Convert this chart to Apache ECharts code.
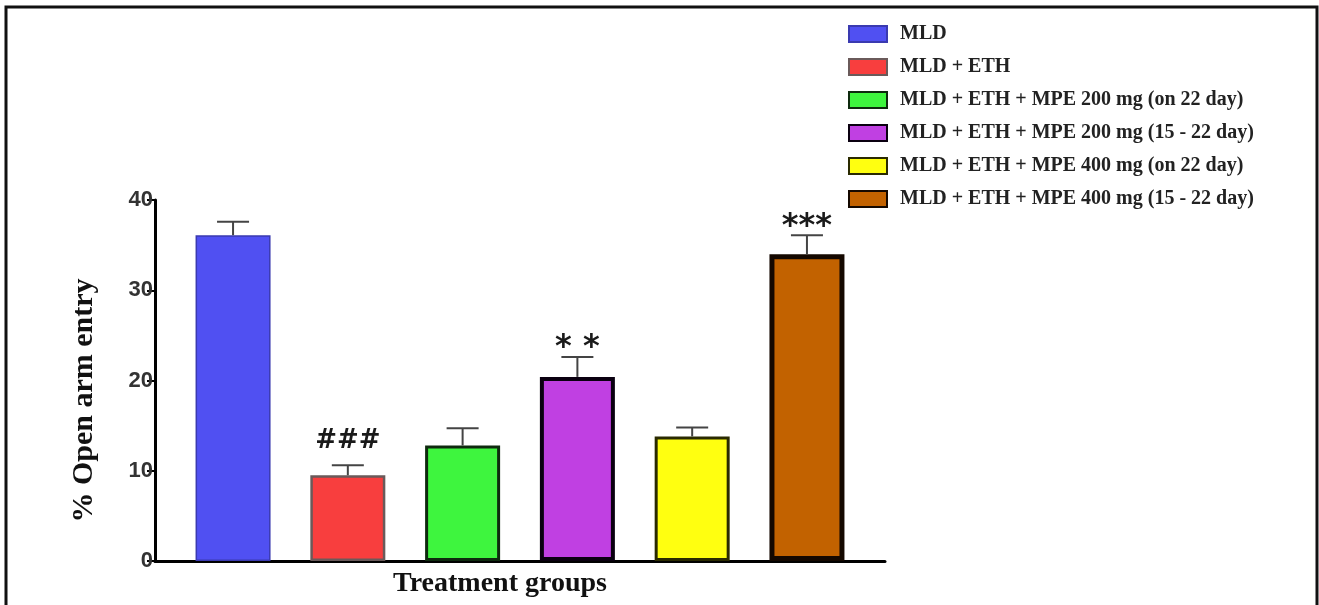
<!DOCTYPE html>
<html>
<head>
<meta charset="utf-8">
<script src="https://cdn.jsdelivr.net/npm/echarts@6/dist/echarts.min.js"></script>
<style>
  html, body { margin: 0; padding: 0; background: #fff; }
  #chart { width: 1319px; height: 605px; }
</style>
</head>
<body>
<div id="chart"></div>
<script>
// groups, means and upper error values
var groups = [
  'MLD',
  'MLD + ETH',
  'MLD + ETH + MPE 200 mg (on 22 day)',
  'MLD + ETH + MPE 200 mg (15 - 22 day)',
  'MLD + ETH + MPE 400 mg (on 22 day)',
  'MLD + ETH + MPE 400 mg (15 - 22 day)'
]
var means = [36.1, 9.5, 12.8, 20.4, 13.8, 34.0]
var upper = [37.6, 10.6, 14.7, 22.6, 14.8, 36.1]
var signif = ['', '###', '', '* *', '', '***']
var yTicks = [0, 10, 20, 30, 40]

var fills = ['#5050f2', '#f83e3e', '#3ef53e', '#c040e2', '#ffff10', '#c26200']
var borders = ['#3a3ab0', '#6a5a5a', '#0e2a0e', '#0a0010', '#2a2a00', '#140800']
var borderW = [1.5, 2.5, 3, 4, 3, 5]

var chart = echarts.init(document.getElementById('chart'))

var series = groups.map(function (g, i) {
  return {
    name: g,
    type: 'bar',
    barWidth: 75,
    barGap: '-100%',
    data: [[i, means[i]]],
    itemStyle: { color: fills[i], borderColor: borders[i], borderWidth: borderW[i] },
    z: 2
  }
})

// error bars + significance marks
series.push({
  type: 'custom',
  name: 'err',
  z: 3,
  data: means.map(function (m, i) { return [i, m, upper[i]] }),
  renderItem: function (params, api) {
    var i = api.value(0)
    var p0 = api.coord([i, api.value(1)])
    var p1 = api.coord([i, api.value(2)])
    var st = { stroke: '#444', lineWidth: 2 }
    var kids = [
      { type: 'line', shape: { x1: p0[0], y1: p0[1], x2: p1[0], y2: p1[1] }, style: st },
      { type: 'line', shape: { x1: p1[0] - 16, y1: p1[1], x2: p1[0] + 16, y2: p1[1] }, style: st }
    ]
    var s = signif[i]
    if (s) {
      var star = s.indexOf('*') >= 0
      kids.push({
        type: 'text',
        style: {
          x: p1[0], y: p1[1] - (star ? 9 : 24),
          text: s,
          align: 'center', verticalAlign: 'middle',
          font: star ? 'bold 32px "DejaVu Sans"' : 'bold 26px "DejaVu Sans"',
          fill: '#1a1a1a'
        }
      })
    }
    return { type: 'group', children: kids }
  }
})

var option = {
  animation: false,
  backgroundColor: '#fff',
  grid: { left: 155, right: 434, top: 200, bottom: 44 },
  legend: {
    data: groups,
    orient: 'vertical',
    left: 843,
    top: 19,
    icon: 'rect',
    itemWidth: 38,
    itemHeight: 16,
    itemGap: 13,
    textStyle: { fontFamily: 'Liberation Serif', fontWeight: 'bold', fontSize: 20, color: '#222', padding: [0, 0, 0, 8] }
  },
  xAxis: {
    type: 'value',
    min: -0.68,
    max: 5.68,
    name: 'Treatment groups',
    nameLocation: 'middle',
    nameGap: 9,
    nameTextStyle: { fontFamily: 'Liberation Serif', fontWeight: 'bold', fontSize: 28, color: '#111', padding: [0, 40, 0, 0] },
    axisLine: { onZero: false, lineStyle: { color: '#000', width: 3 } },
    axisTick: { show: false },
    axisLabel: { show: false },
    splitLine: { show: false }
  },
  yAxis: {
    type: 'value',
    min: yTicks[0],
    max: yTicks[yTicks.length - 1],
    interval: 10,
    name: '% Open arm entry',
    nameLocation: 'middle',
    nameGap: 56,
    nameTextStyle: { fontFamily: 'Liberation Serif', fontWeight: 'bold', fontSize: 30, color: '#111', padding: [0, 40, 0, 0] },
    axisLine: { show: true, onZero: false, lineStyle: { color: '#000', width: 3 } },
    axisTick: { show: true, length: 8, lineStyle: { color: '#000', width: 2 } },
    axisLabel: { margin: 2, fontFamily: 'Liberation Sans', fontWeight: 'bold', fontSize: 22, color: '#333' },
    splitLine: { show: false }
  },
  graphic: [{
    type: 'rect',
    shape: { x: 6, y: 7, width: 1311, height: 620 },
    style: { fill: 'none', stroke: '#111', lineWidth: 3 },
    silent: true
  }],
  series: series
}

chart.setOption(option)
window.addEventListener('resize', function () { chart.resize() })
</script>
</body>
</html>
